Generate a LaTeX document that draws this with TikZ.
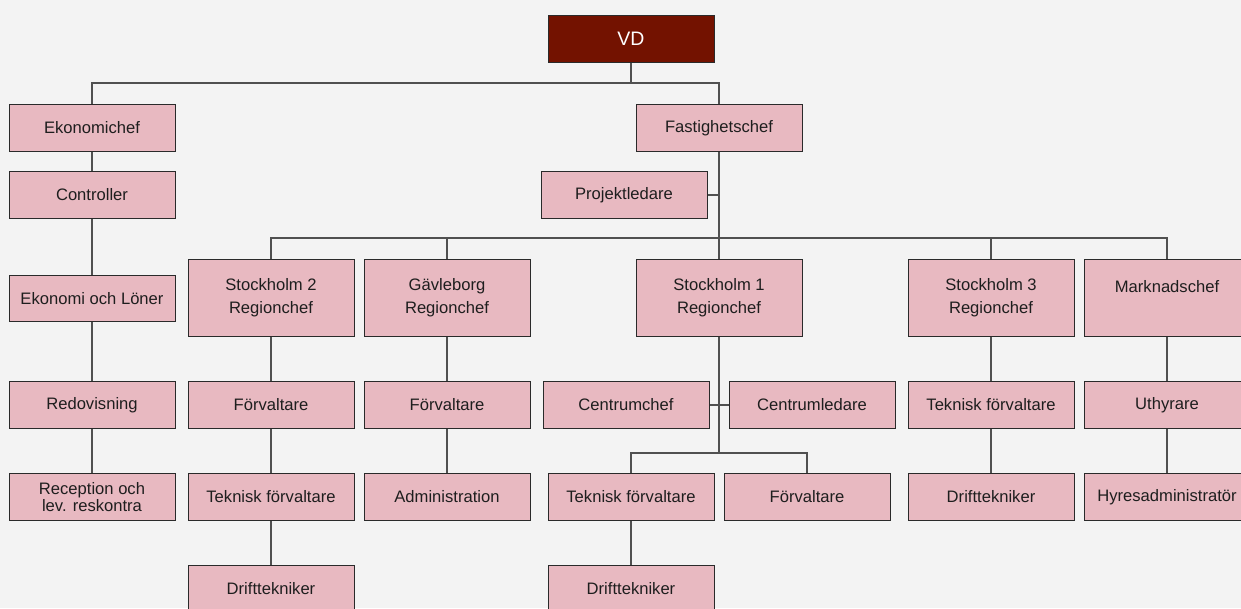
\documentclass[tikz,border=0pt]{standalone}
\usepackage{fontspec}
\setmainfont{Liberation Sans}
\definecolor{bg}{HTML}{F3F3F3}
\definecolor{pinkbox}{HTML}{E8B9C1}
\definecolor{vdred}{HTML}{731200}
\definecolor{boxline}{HTML}{2A2A2A}
\definecolor{conn}{HTML}{505050}
\definecolor{txt}{HTML}{1E1E1E}
\tikzset{
  orgbox/.style={rectangle, draw=boxline, line width=1pt, fill=pinkbox, text=txt,
    minimum width=166pt, minimum height=46.5pt, inner sep=0pt, align=center,
    font=\fontsize{16.6}{23}\selectfont},
  tallbox/.style={orgbox, minimum height=77pt},
  topbox/.style={orgbox, fill=vdred, text=white, font=\fontsize{19.5}{23}\selectfont},
  link/.style={draw=conn, line width=1.1pt}
}
\begin{document}
\begin{tikzpicture}[x=1pt,y=-1pt]
\useasboundingbox (0,0) rectangle (1241,608);
\clip (0,0) rectangle (1241,608);
\fill[bg] (0,0) rectangle (1241,608);
\coordinate (b1) at (0,83);
\coordinate (b2) at (0,238);
\coordinate (b3) at (0,453);
% nodes
\node[topbox] (vd) at (631,38.75) {VD};
\node[orgbox] (eko) at (92,128) {Ekonomichef};
\node[orgbox] (ctrl) at (92,195) {Controller};
\node[orgbox] (eol) at (92,298.5) {Ekonomi och Löner};
\node[orgbox] (red) at (92,405) {Redovisning};
\node[orgbox, font=\fontsize{16.6}{17.7}\selectfont] (rec) at (92,497) {Reception och\\lev. reskontra};
\node[orgbox] (fast) at (719,128) {Fastighetschef};
\node[orgbox] (proj) at (624,195) {Projektledare};
\node[tallbox] (s2) at (271,297.5) {Stockholm 2\\Regionchef};
\node[tallbox] (gav) at (447,297.5) {Gävleborg\\Regionchef};
\node[tallbox] (s1) at (719,297.5) {Stockholm 1\\Regionchef};
\node[tallbox] (s3) at (991,297.5) {Stockholm 3\\Regionchef};
\node[tallbox] (mark) at (1167,297.5) {Marknadschef\\\mbox{}};
\node[orgbox] (f2) at (271,405) {Förvaltare};
\node[orgbox] (tk2) at (271,497) {Teknisk förvaltare};
\node[orgbox] (d2) at (271,589) {Drifttekniker};
\node[orgbox] (fg) at (447,405) {Förvaltare};
\node[orgbox] (adm) at (447,497) {Administration};
\node[orgbox] (cc) at (626,405) {Centrumchef};
\node[orgbox] (cl) at (812,405) {Centrumledare};
\node[orgbox] (tk1) at (631,497) {Teknisk förvaltare};
\node[orgbox] (f1) at (807,497) {Förvaltare};
\node[orgbox] (d1) at (631,589) {Drifttekniker};
\node[orgbox] (tk3) at (991,405) {Teknisk förvaltare};
\node[orgbox] (d3) at (991,497) {Drifttekniker};
\node[orgbox] (uth) at (1167,405) {Uthyrare};
\node[orgbox] (hyr) at (1167,497) {Hyresadministratör};
% connectors
\draw[link] (vd.south) -- (vd.south |- b1);
\draw[link] (eko.north) -- (eko.north |- b1) -- (fast.north |- b1) -- (fast.north);
\draw[link] (eko.south) -- (ctrl.north);
\draw[link] (ctrl.south) -- (eol.north);
\draw[link] (eol.south) -- (red.north);
\draw[link] (red.south) -- (rec.north);
\draw[link] (fast.south) -- (fast.south |- b2);
\draw[link] (proj.east) -- (proj.east -| fast.south);
\draw[link] (s2.north) -- (s2.north |- b2) -- (mark.north |- b2) -- (mark.north);
\draw[link] (gav.north) -- (gav.north |- b2);
\draw[link] (s1.north) -- (s1.north |- b2);
\draw[link] (s3.north) -- (s3.north |- b2);
\draw[link] (s2.south) -- (f2.north);
\draw[link] (f2.south) -- (tk2.north);
\draw[link] (tk2.south) -- (d2.north);
\draw[link] (gav.south) -- (fg.north);
\draw[link] (fg.south) -- (adm.north);
\draw[link] (s1.south) -- (s1.south |- b3);
\draw[link] (cc.east) -- (cc.east -| s1.south);
\draw[link] (cl.west) -- (cl.west -| s1.south);
\draw[link] (tk1.north) -- (tk1.north |- b3) -- (f1.north |- b3) -- (f1.north);
\draw[link] (tk1.south) -- (d1.north);
\draw[link] (s3.south) -- (tk3.north);
\draw[link] (tk3.south) -- (d3.north);
\draw[link] (mark.south) -- (uth.north);
\draw[link] (uth.south) -- (hyr.north);
\end{tikzpicture}
\end{document}
